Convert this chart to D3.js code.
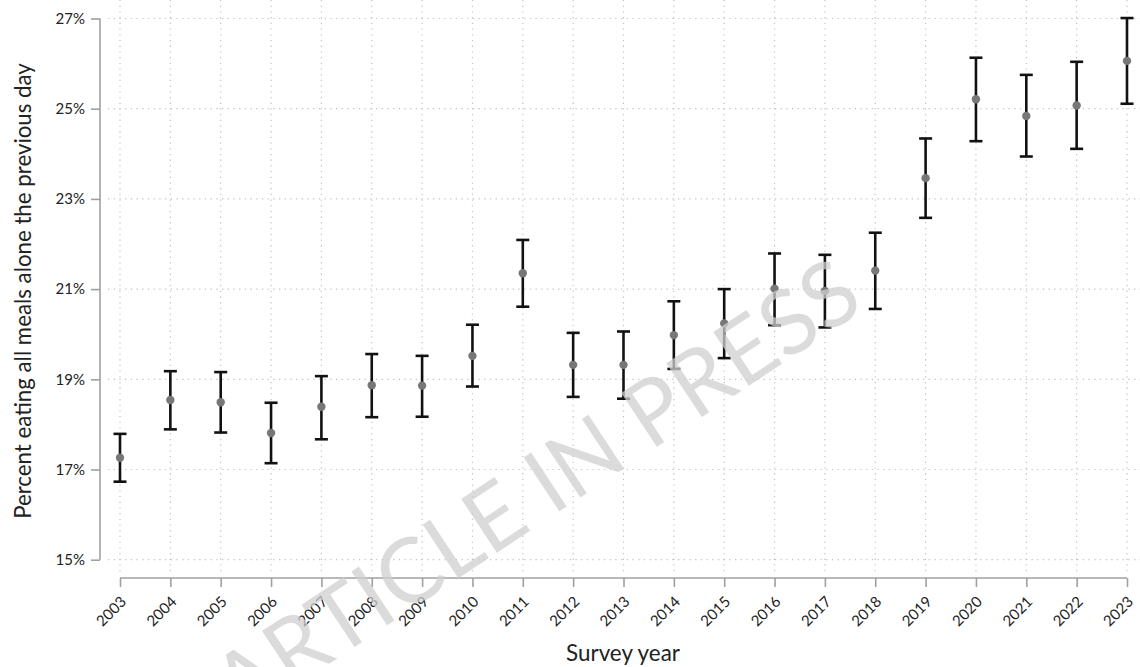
<!DOCTYPE html>
<html>
<head>
<meta charset="utf-8">
<script src="https://cdn.jsdelivr.net/npm/d3@7"></script>
<style>
  html, body { margin: 0; padding: 0; background: #fff; }
  svg { display: block; }
  text { font-family: Lato, "Open Sans", sans-serif; fill: #222; }
</style>
</head>
<body>
<script>
const years = [2003,2004,2005,2006,2007,2008,2009,2010,2011,2012,2013,2014,2015,2016,2017,2018,2019,2020,2021,2022,2023];
const estimate = [17.26,18.54,18.49,17.81,18.39,18.87,18.86,19.52,21.35,19.32,19.32,19.98,20.24,21.01,20.96,21.41,23.46,25.21,24.84,25.07,26.06];
const upper = [17.79,19.18,19.16,18.48,19.07,19.56,19.52,20.21,22.09,20.03,20.06,20.73,21.00,21.79,21.76,22.25,24.34,26.13,25.75,26.04,27.01];
const lower = [16.73,17.89,17.82,17.14,17.67,18.16,18.17,18.84,20.61,18.61,18.57,19.23,19.47,20.20,20.15,20.56,22.58,24.28,23.94,24.11,25.11];
const yTicks = [15,17,19,21,23,25,27];
const xTitle = "Survey year";
const yTitle = "Percent eating all meals alone the previous day";
const watermark = "ARTICLE IN PRESS";

const W = 1140, H = 667;
const svg = d3.select("body").append("svg").attr("width", W).attr("height", H);

const x = d3.scalePoint().domain(years).range([120, 1127]);
const y = d3.scaleLinear().domain([15, 27]).range([559.7, 18.5]);

// gridlines
const grid = svg.append("g");
grid.selectAll("line.h").data(yTicks).join("line")
  .attr("x1", 108).attr("x2", W)
  .attr("y1", d => y(d)).attr("y2", d => y(d))
  .attr("stroke", "#c4c4c4").attr("stroke-width", 1.2).attr("stroke-dasharray", "1.3,4.4");
grid.selectAll("line.v").data(years).join("line")
  .attr("x1", d => x(d)).attr("x2", d => x(d))
  .attr("y1", 0).attr("y2", 573)
  .attr("stroke", "#c4c4c4").attr("stroke-width", 1.2).attr("stroke-dasharray", "1.3,4.4");

// y axis
const yAxis = d3.axisLeft(y).tickValues(yTicks).tickSize(9).tickPadding(6).tickFormat(d => d + "%");
const gy = svg.append("g").attr("transform", "translate(100,0)").call(yAxis);
gy.select(".domain").attr("stroke", "#a0a0a0").attr("stroke-width", 1.6).attr("d", `M0,${y(27)}V${y(15)}`);
gy.selectAll(".tick line").attr("stroke", "#a0a0a0").attr("stroke-width", 1.6);
gy.selectAll(".tick text").attr("font-size", 15).attr("font-family", "Lato, sans-serif").attr("fill", "#222");

// x axis
const xAxis = d3.axisBottom(x).tickSize(9).tickPadding(4);
const gx = svg.append("g").attr("transform", "translate(0,578)").call(xAxis);
gx.select(".domain").attr("stroke", "#a0a0a0").attr("stroke-width", 1.6).attr("d", `M${x(2003)},0H${x(2023)}`);
gx.selectAll(".tick line").attr("stroke", "#a0a0a0").attr("stroke-width", 1.6);
gx.selectAll(".tick text")
  .attr("font-size", 15).attr("font-family", "Lato, sans-serif").attr("fill", "#222")
  .attr("text-anchor", "end")
  .attr("transform", "translate(3,21) rotate(-45)")
  .attr("x", 0).attr("y", 0).attr("dy", "0.35em");

// titles (font size fitted to the reference's text length)
function fit(sel, target) {
  sel.attr("font-size", 20);
  const len = sel.node().getComputedTextLength();
  if (len > 0) sel.attr("font-size", 20 * target / len);
  return sel;
}
const xt = svg.append("text").attr("x", 623).attr("y", 661).attr("text-anchor", "middle")
  .attr("font-family", "'Open Sans', sans-serif").text(xTitle);
fit(xt, 114);
const yt = svg.append("text").attr("transform", "translate(31,291) rotate(-90)").attr("text-anchor", "middle")
  .attr("font-family", "'Open Sans', sans-serif").text(yTitle);
fit(yt, 456);

// error bars
const data = years.map((yr, i) => ({yr, est: estimate[i], lo: lower[i], hi: upper[i]}));
const eb = svg.append("g");
eb.selectAll("line.bar").data(data).join("line")
  .attr("x1", d => x(d.yr)).attr("x2", d => x(d.yr))
  .attr("y1", d => y(d.lo)).attr("y2", d => y(d.hi))
  .attr("stroke", "#111").attr("stroke-width", 2.6);
eb.selectAll("line.capT").data(data).join("line")
  .attr("x1", d => x(d.yr) - 6.5).attr("x2", d => x(d.yr) + 6.5)
  .attr("y1", d => y(d.hi)).attr("y2", d => y(d.hi))
  .attr("stroke", "#111").attr("stroke-width", 2.6);
eb.selectAll("line.capB").data(data).join("line")
  .attr("x1", d => x(d.yr) - 6.5).attr("x2", d => x(d.yr) + 6.5)
  .attr("y1", d => y(d.lo)).attr("y2", d => y(d.lo))
  .attr("stroke", "#111").attr("stroke-width", 2.6);
eb.selectAll("circle").data(data).join("circle")
  .attr("cx", d => x(d.yr)).attr("cy", d => y(d.est)).attr("r", 4.2)
  .attr("fill", "#777");

// watermark
svg.append("text")
  .attr("transform", "translate(536,489) rotate(-33.5)")
  .attr("text-anchor", "middle").attr("dy", "0.35em")
  .attr("font-family", "'Liberation Sans', Arial, sans-serif")
  .attr("font-size", 90)
  .style("fill", "#cfcfcf").attr("fill-opacity", 0.75)
  .text(watermark);
</script>
</body>
</html>
